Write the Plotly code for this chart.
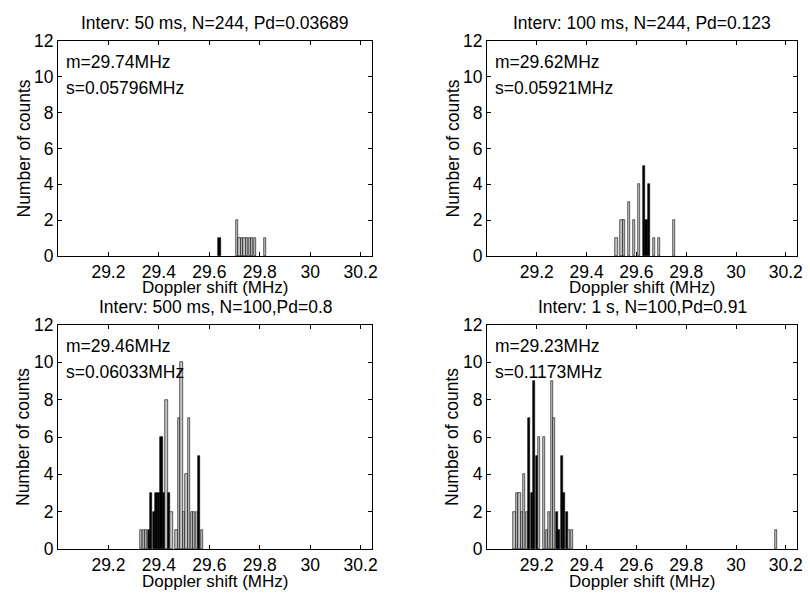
import plotly.graph_objects as go

# histogram bins (MHz) and counts
x_50ms = [29.64, 29.71, 29.72, 29.73, 29.74, 29.75, 29.76, 29.77, 29.78, 29.82]
n_50ms = [1, 2, 1, 1, 1, 1, 1, 1, 1, 1]
dark_50ms = [29.64]

x_100ms = [29.52, 29.54, 29.55, 29.57, 29.59, 29.61, 29.63, 29.64, 29.65, 29.67, 29.69, 29.75]
n_100ms = [1, 2, 2, 3, 2, 4, 5, 2, 4, 1, 1, 2]
dark_100ms = [29.63, 29.64, 29.65]

x_500ms = [29.33, 29.34, 29.35, 29.36, 29.37, 29.38, 29.39, 29.40, 29.41, 29.42, 29.43, 29.44,
           29.45, 29.47, 29.48, 29.49, 29.50, 29.51, 29.52, 29.53, 29.54, 29.55, 29.56, 29.57]
n_500ms = [1, 1, 1, 1, 3, 2, 3, 3, 6, 3, 8, 3, 2, 1, 7, 10, 2, 4, 7, 2, 2, 2, 5, 1]
dark_500ms = [29.36, 29.37, 29.38, 29.39, 29.40, 29.41, 29.42, 29.44, 29.56]

x_1s = [29.11, 29.12, 29.13, 29.14, 29.15, 29.16, 29.17, 29.18, 29.19, 29.20, 29.21, 29.23,
        29.24, 29.25, 29.26, 29.27, 29.28, 29.29, 29.30, 29.31, 29.32, 29.33, 29.34, 30.16]
n_1s = [2, 3, 3, 2, 4, 2, 7, 3, 9, 5, 6, 6, 1, 2, 9, 7, 2, 1, 5, 3, 2, 1, 1, 1]
dark_1s = [29.17, 29.18, 29.19, 29.20, 29.28, 29.29, 29.30, 29.31, 29.32]

titles = ["Interv: 50 ms, N=244, Pd=0.03689", "Interv: 100 ms, N=244, Pd=0.123",
          "Interv: 500 ms, N=100,Pd=0.8", "Interv: 1 s, N=100,Pd=0.91"]
means = ["m=29.74MHz", "m=29.62MHz", "m=29.46MHz", "m=29.23MHz"]
sigmas = ["s=0.05796MHz", "s=0.05921MHz", "s=0.06033MHz", "s=0.1173MHz"]

xticks = [29.2, 29.4, 29.6, 29.8, 30.0, 30.2]
xticklabels = ["29.2", "29.4", "29.6", "29.8", "30", "30.2"]
yticks = [0, 2, 4, 6, 8, 10, 12]

# the page body has an 8px margin on every side; keep the figure inside the
# window so no scrollbars appear, and place everything in window pixels
OFF = 8
W, H = 810 - 2 * OFF, 599 - 2 * OFF
FONT = "Liberation Sans, Arial, sans-serif"
FS = 17.5

# panel boxes in window pixels: left, right, top, bottom
boxes = [(58, 372, 41, 256), (487, 797, 41, 256),
         (58, 372, 325, 549), (487, 797, 325, 549)]
xtitle_gap = [31, 31, 32, 32]

data = [(x_50ms, n_50ms, dark_50ms), (x_100ms, n_100ms, dark_100ms),
        (x_500ms, n_500ms, dark_500ms), (x_1s, n_1s, dark_1s)]


def px(x):
    return (x - OFF) / W


def py(y):
    return 1 - (y - OFF) / H


fig = go.Figure()
annotations = []
layout = {}

for i, ((xs, ns, dark), (l, r, t, b)) in enumerate(zip(data, boxes)):
    k = "" if i == 0 else str(i + 1)
    colors = ["black" if x in dark else "#c4c4c4" for x in xs]
    fig.add_trace(go.Bar(x=xs, y=ns, width=0.0092, xaxis="x" + k, yaxis="y" + k,
                         marker=dict(color=colors, line=dict(color="black", width=0.6)),
                         showlegend=False))
    common = dict(showgrid=False, zeroline=False, showline=True, linecolor="black",
                  linewidth=1, mirror="ticks", ticks="inside", ticklen=4,
                  tickcolor="black", automargin=False, ticklabeloverflow="allow",
                  tickfont=dict(family=FONT, size=FS, color="black"))
    layout["xaxis" + k] = dict(domain=[px(l), px(r)], range=[29.0, 30.245], anchor="y" + k,
                               tickvals=xticks, ticktext=xticklabels, **common)
    layout["yaxis" + k] = dict(domain=[py(b), py(t)], range=[0, 12], anchor="x" + k,
                               tickvals=yticks, **common)
    cx = (l + r) / 2
    annotations += [
        dict(text=titles[i], x=px(cx), y=py(t - 18)),
        dict(text="Doppler shift (MHz)", x=px(cx), y=py(b + xtitle_gap[i]), size=17),
        dict(text="Number of counts", x=px(l - 35), y=py((t + b) / 2), textangle=-90),
        dict(text=means[i], x=px(l + 6), y=py(t + 21), xanchor="left"),
        dict(text=sigmas[i], x=px(l + 6), y=py(t + 47), xanchor="left"),
    ]

for a in annotations:
    a.setdefault("xanchor", "center")
    size = a.pop("size", FS)
    a.update(xref="paper", yref="paper", yanchor="middle", showarrow=False,
             font=dict(family=FONT, size=size, color="black"))

fig.update_layout(width=W, height=H, margin=dict(l=0, r=0, t=0, b=0, autoexpand=False),
                  paper_bgcolor="white", plot_bgcolor="white", bargap=0,
                  annotations=annotations, **layout)

fig.write_html("out.html")
